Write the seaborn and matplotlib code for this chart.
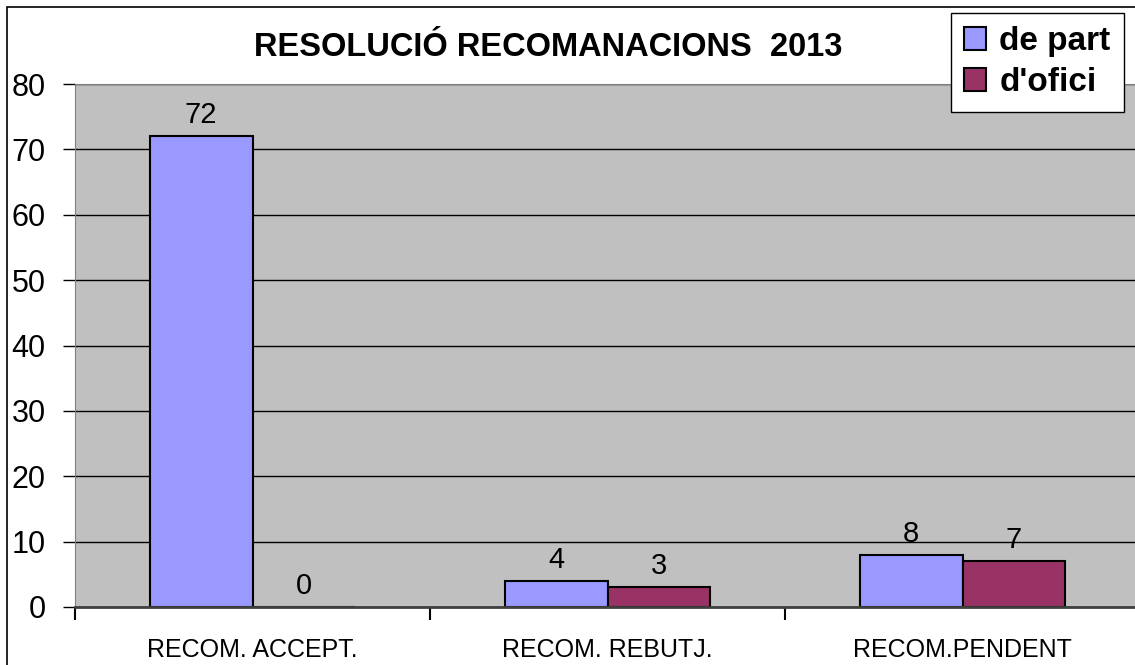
import pandas as pd
import matplotlib
matplotlib.use("Agg")
import matplotlib.pyplot as plt
import seaborn as sns
from matplotlib.patches import Rectangle

categories = ["RECOM. ACCEPT.", "RECOM. REBUTJ.", "RECOM.PENDENT"]
de_part = [72, 4, 8]
d_ofici = [0, 3, 7]
series = ["de part", "d'ofici"]

df = pd.DataFrame({
    "cat": categories * 2,
    "serie": [series[0]] * 3 + [series[1]] * 3,
    "val": de_part + d_ofici,
})

sns.set_style("white")
plt.rcParams["font.family"] = ["Liberation Sans", "DejaVu Sans"]
plt.rcParams["text.color"] = "black"
plt.rcParams["xtick.color"] = "black"
plt.rcParams["ytick.color"] = "black"

fig = plt.figure(figsize=(11.35, 6.65), dpi=100)
# plot area runs a bit past the right edge of the image, like the original
ax = fig.add_axes([75 / 1135, 58 / 665, 1065 / 1135, 523 / 665])

sns.barplot(data=df, x="cat", y="val", hue="serie", ax=ax,
            palette=["#9999FF", "#993366"], width=0.58, gap=0,
            edgecolor="black", linewidth=1.5, saturation=1)

ax.set_facecolor("#C0C0C0")
ax.set_ylim(0, 80)
ax.set_xlim(-0.5, 2.5)
ax.set_yticks(range(0, 81, 10))
ax.yaxis.grid(True, color="black", linewidth=1)
ax.set_axisbelow(True)
ax.tick_params(axis="y", labelsize=22, length=9, width=1, direction="out", left=True, pad=12)
ax.tick_params(axis="x", labelsize=18, length=0, pad=22)
ax.set_xticks([-0.5, 0.5, 1.5, 2.5], minor=True)
ax.tick_params(axis="x", which="minor", length=9, width=1.5, bottom=True)
ax.set_xlabel("")
ax.set_ylabel("")
ax.spines["top"].set_color("#808080")
ax.spines["right"].set_visible(False)
ax.spines["left"].set_color("#808080")
ax.spines["bottom"].set_color("#404040")
ax.spines["bottom"].set_linewidth(2)

for cont in ax.containers:
    ax.bar_label(cont, fontsize=21, padding=5)

ax.legend_.remove()
leg = fig.legend(handles=[c.patches[0] for c in ax.containers],
                 labels=series, loc="upper right",
                 bbox_to_anchor=(1124 / 1135, 1 - 13 / 665),
                 prop={"weight": "bold", "size": 24}, frameon=True, fancybox=False,
                 handlelength=0.65, handleheight=0.65, handletextpad=0.4,
                 borderpad=0.4, labelspacing=0.3, borderaxespad=0)
leg.get_frame().set_edgecolor("black")
leg.get_frame().set_linewidth(1)
leg.get_frame().set_alpha(1)

fig.text(548 / 1135, 1 - 47 / 665, "RESOLUCIÓ RECOMANACIONS  2013",
         ha="center", va="center", fontsize=23.5, fontweight="bold")

fig.add_artist(Rectangle((7 / 1135, -0.5), 1.5, 1.5 - 7 / 665, transform=fig.transFigure,
                         fill=False, edgecolor="black", linewidth=1.2))

fig.savefig("out.png", dpi=100)
